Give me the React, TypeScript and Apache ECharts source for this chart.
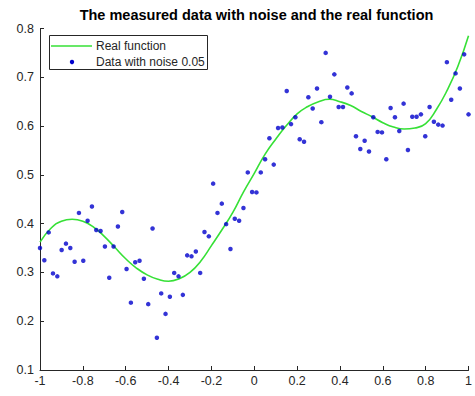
import React, { useEffect, useRef } from "react";
import * as echarts from "echarts";

const noiseX = [
  -1, -0.9798, -0.9596, -0.9394, -0.9192, -0.899, -0.8788, -0.8586, -0.8384, -0.8182,
  -0.798, -0.7778, -0.7576, -0.7374, -0.7172, -0.697, -0.6768, -0.6566, -0.6364, -0.6162,
  -0.596, -0.5758, -0.5556, -0.5354, -0.5152, -0.4949, -0.4747, -0.4545, -0.4343, -0.4141,
  -0.3939, -0.3737, -0.3535, -0.3333, -0.3131, -0.2929, -0.2727, -0.2525, -0.2323, -0.2121,
  -0.1919, -0.1717, -0.1515, -0.1313, -0.1111, -0.0909, -0.0707, -0.0505, -0.0303, -0.0101,
  0.0101, 0.0303, 0.0505, 0.0707, 0.0909, 0.1111, 0.1313, 0.1515, 0.1717, 0.1919,
  0.2121, 0.2323, 0.2525, 0.2727, 0.2929, 0.3131, 0.3333, 0.3535, 0.3737, 0.3939,
  0.4141, 0.4343, 0.4545, 0.4747, 0.4949, 0.5152, 0.5354, 0.5556, 0.5758, 0.596,
  0.6162, 0.6364, 0.6566, 0.6768, 0.697, 0.7172, 0.7374, 0.7576, 0.7778, 0.798,
  0.8182, 0.8384, 0.8586, 0.8788, 0.899, 0.9192, 0.9394, 0.9596, 0.9798, 1,
];

const noiseY = [
  0.35, 0.325, 0.382, 0.298, 0.292, 0.346, 0.359, 0.35, 0.322, 0.422,
  0.324, 0.406, 0.435, 0.387, 0.385, 0.353, 0.289, 0.353, 0.394, 0.424,
  0.307, 0.238, 0.321, 0.324, 0.287, 0.235, 0.39, 0.166, 0.257, 0.215,
  0.25, 0.299, 0.292, 0.254, 0.335, 0.333, 0.343, 0.299, 0.383, 0.374,
  0.482, 0.422, 0.441, 0.399, 0.348, 0.41, 0.406, 0.432, 0.505, 0.465,
  0.464, 0.505, 0.532, 0.575, 0.521, 0.596, 0.597, 0.672, 0.604, 0.618,
  0.573, 0.568, 0.659, 0.636, 0.677, 0.608, 0.75, 0.66, 0.706, 0.639,
  0.639, 0.679, 0.667, 0.579, 0.553, 0.57, 0.548, 0.618, 0.588, 0.587,
  0.532, 0.637, 0.618, 0.59, 0.646, 0.551, 0.619, 0.619, 0.624, 0.579,
  0.639, 0.609, 0.603, 0.601, 0.731, 0.654, 0.708, 0.677, 0.747, 0.624,
];

const realX = [
  -1, -0.95, -0.9, -0.85, -0.8, -0.75, -0.7, -0.65, -0.6, -0.55, -0.5, -0.45, -0.4,
  -0.35, -0.3, -0.25, -0.2, -0.15, -0.1, -0.05, 0, 0.05, 0.1, 0.15, 0.2, 0.25, 0.3,
  0.35, 0.4, 0.45, 0.5, 0.55, 0.6, 0.65, 0.7, 0.75, 0.8, 0.85, 0.9, 0.95, 1,
];

const realY = [
  0.362, 0.39, 0.405, 0.409, 0.405, 0.393, 0.374, 0.351, 0.328, 0.309, 0.295, 0.286, 0.282,
  0.287, 0.3, 0.323, 0.355, 0.388, 0.423, 0.465, 0.503, 0.542, 0.573, 0.601, 0.625, 0.64, 0.65,
  0.655, 0.65, 0.642, 0.63, 0.619, 0.607, 0.598, 0.594, 0.596, 0.605, 0.634, 0.673, 0.722, 0.785,
];

const titleText = "The measured data with noise and the real function";
const legendNames = ["Real function", "Data with noise 0.05"];

const FONT = "'Liberation Sans', Arial, Helvetica, sans-serif";
const AXIS_COLOR = "#262626";
const GREEN = "#36e036";
const BLUE = "#0000cc";

export default function App() {
  const ref = useRef<HTMLDivElement>(null);

  useEffect(() => {
    if (!ref.current) return;
    const chart = echarts.init(ref.current, null, { renderer: "svg" });
    const option: any = {
      animation: false,
      backgroundColor: "#ffffff",
      grid: { left: 40, right: 2, top: 28.5, bottom: 26, containLabel: false },
      xAxis: {
        type: "value",
        min: -1,
        max: 1,
        interval: 0.2,
        splitLine: { show: false },
        axisLine: { show: true, onZero: false, lineStyle: { color: AXIS_COLOR, width: 1 } },
        axisTick: { show: true, inside: true, length: 4, lineStyle: { color: AXIS_COLOR } },
        axisLabel: {
          color: AXIS_COLOR,
          fontSize: 12.5,
          fontFamily: FONT,
          margin: 4,
          formatter: (v: number) => String(Math.round(v * 10) / 10),
        },
      },
      yAxis: {
        type: "value",
        min: 0.1,
        max: 0.8,
        interval: 0.1,
        splitLine: { show: false },
        axisLine: { show: true, onZero: false, lineStyle: { color: AXIS_COLOR, width: 1 } },
        axisTick: { show: true, inside: true, length: 4, lineStyle: { color: AXIS_COLOR } },
        axisLabel: {
          color: AXIS_COLOR,
          fontSize: 12.5,
          fontFamily: FONT,
          margin: 6,
          formatter: (v: number) => v.toFixed(1),
        },
      },
      series: [
        {
          name: legendNames[0],
          type: "line",
          data: realX.map((x, i) => [x, realY[i]]),
          smooth: true,
          symbol: "none",
          lineStyle: { color: GREEN, width: 1.6 },
          z: 2,
        },
        {
          name: legendNames[1],
          type: "scatter",
          data: noiseX.map((x, i) => [x, noiseY[i]]),
          symbol: "circle",
          symbolSize: 4.5,
          itemStyle: { color: BLUE },
          z: 3,
        },
      ],
      graphic: [
        {
          type: "text",
          x: 256.5,
          y: 15,
          style: {
            text: titleText,
            fill: "#000000",
            font: `bold 14.5px ${FONT}`,
            textAlign: "center",
            textVerticalAlign: "middle",
          },
        },
        {
          type: "rect",
          shape: { x: 49.5, y: 35.5, width: 158, height: 34 },
          style: { fill: "#ffffff", stroke: AXIS_COLOR, lineWidth: 1 },
          z: 10,
        },
        {
          type: "line",
          shape: { x1: 51, y1: 46, x2: 92, y2: 46 },
          style: { stroke: GREEN, lineWidth: 1.6 },
          z: 11,
        },
        {
          type: "circle",
          shape: { cx: 72, cy: 62, r: 2.2 },
          style: { fill: BLUE },
          z: 11,
        },
        {
          type: "text",
          x: 96,
          y: 46,
          style: {
            text: legendNames[0],
            fill: AXIS_COLOR,
            font: `12px ${FONT}`,
            textAlign: "left",
            textVerticalAlign: "middle",
          },
          z: 11,
        },
        {
          type: "text",
          x: 96,
          y: 62,
          style: {
            text: legendNames[1],
            fill: AXIS_COLOR,
            font: `12px ${FONT}`,
            textAlign: "left",
            textVerticalAlign: "middle",
          },
          z: 11,
        },
      ],
    };
    chart.setOption(option);
    return () => chart.dispose();
  }, []);

  return (
    <div
      ref={ref}
      style={{ position: "fixed", left: 0, top: 0, width: 475, height: 396 }}
    />
  );
}
